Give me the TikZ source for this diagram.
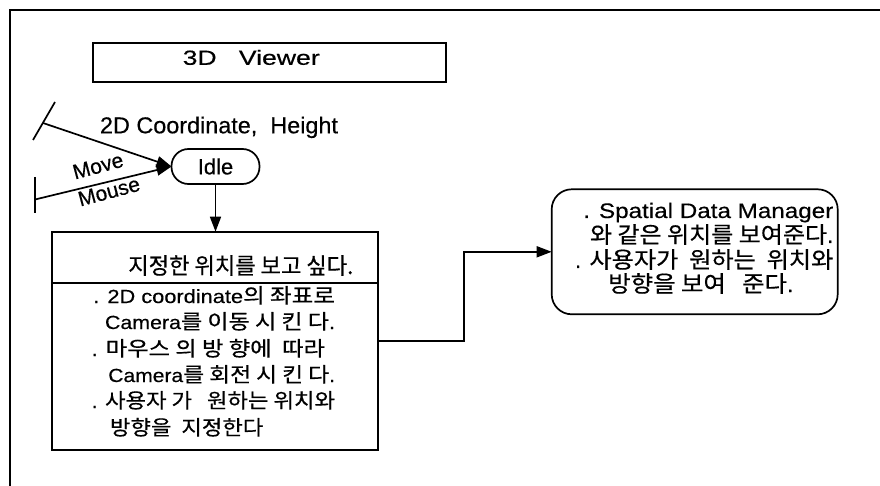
\documentclass[tikz,border=0pt]{standalone}
\usepackage{fontspec}
\usepackage{graphicx}
\setmainfont{Liberation Sans}[FakeBold=0.4]
\newfontfamily\kr{Noto Sans CJK KR}[Scale=1.08,FakeBold=0.5]
\usetikzlibrary{arrows.meta}
\newcommand\fw[2]{\resizebox{#1pt}{\height}{#2}}
\begin{document}
\begin{tikzpicture}[x=1pt,y=-1pt,line width=1.7pt,
  txt/.style={anchor=base west,inner sep=0pt,outer sep=0pt},
  fa/.style={font=\fontsize{19}{19}\selectfont},
  fb/.style={font=\fontsize{21}{21}\selectfont},
  fc/.style={font=\fontsize{23}{23}\selectfont},
  arr/.style={-{Triangle[length=15pt,width=11pt]}},
  boxshape/.style={draw,inner sep=0pt,outer sep=0pt}]
\useasboundingbox (0,0) rectangle (880,486);
% frame
\draw[line width=1.4pt] (880,10) -- (10,10) -- (10,486);
% title
\node[boxshape,minimum width=353pt,minimum height=39pt] (title) at (269.5,62.5) {};
\node[txt,font=\fontsize{20.5}{20.5}\selectfont] (titletxt) at (182.7,64.8) {\fw{137}{3D~~~Viewer}};
% idle
\node[boxshape,rounded corners=17pt,minimum width=88pt,minimum height=35pt,font=\fontsize{22}{22}\selectfont] (idle) at (215.5,166.5) {Idle};
% ticks and input arrows
\coordinate (t1a) at (33,140);
\coordinate (t1b) at (55,102);
\coordinate (s1) at (43,123);
\draw (t1a) -- (t1b);
\draw[arr] (s1) -- (idle.west);
\coordinate (t2a) at (35,177);
\coordinate (t2b) at (35,213);
\coordinate (s2) at (35,199.5);
\draw (t2a) -- (t2b);
\draw[arr] (s2) -- (idle.west);
\node[txt,fc] (lblc) at (100,133.3) {\fw{238}{2D Coordinate,~~Height}};
\node[rotate=15,inner sep=0pt,font=\fontsize{21}{21}\selectfont] (lblmove) at (98,166) {Move};
\node[rotate=15,inner sep=0pt,font=\fontsize{21}{21}\selectfont] (lblmouse) at (109,191.5) {Mouse};
% left box
\node[boxshape,minimum width=326.6pt,minimum height=218.3pt] (lbox) at (215,340.85) {};
\draw (51.7,283.3) -- (378.3,283.3);
\draw[arr] (idle.south) -- (idle.south |- lbox.north);
\node[txt,fb] (hdr) at (128.3,274) {\fw{225}{\kr 지정한 위치를 보고 싶다.}};
\node[txt,fa] (b1) at (93.3,303) {\fw{241.7}{. 2D coordinate{\kr 의 좌표로}}};
\node[txt,fa] (b2) at (105,329) {\fw{230}{Camera{\kr 를 이동 시 킨 다}.}};
\node[txt,fa] (b3) at (91.7,356) {\fw{233.3}{. {\kr 마우스 의 방 향에~~따라}}};
\node[txt,fa] (b4) at (108.3,382) {\fw{226.7}{Camera{\kr 를 회전 시 킨 다}.}};
\node[txt,fa] (b5) at (91.7,408) {\fw{243.3}{. {\kr 사용자 가~~~원하는 위치와}}};
\node[txt,fa] (b6) at (110,435) {\fw{153.3}{\kr 방향을~~지정한다}};
% right box
\node[boxshape,rounded corners=20pt,minimum width=286pt,minimum height=125pt] (rbox) at (694.7,251.8) {};
\coordinate (bend) at (464,340.85);
\draw[arr] (lbox.east) -- (bend) |- (rbox.west);
\node[txt,fb] (r1) at (583.3,218) {\fw{250}{. Spatial Data Manager}};
\node[txt,fb] (r2) at (590,243) {\fw{243.3}{{\kr 와 같은 위치를 보여준다}.}};
\node[txt,fb] (r3) at (575,268) {\fw{258.3}{. {\kr 사용자가~~원하는~~위치와}}};
\node[txt,fb] (r4) at (608.3,292) {\fw{185}{{\kr 방향을 보여~~~준다}.}};
\end{tikzpicture}
\end{document}
